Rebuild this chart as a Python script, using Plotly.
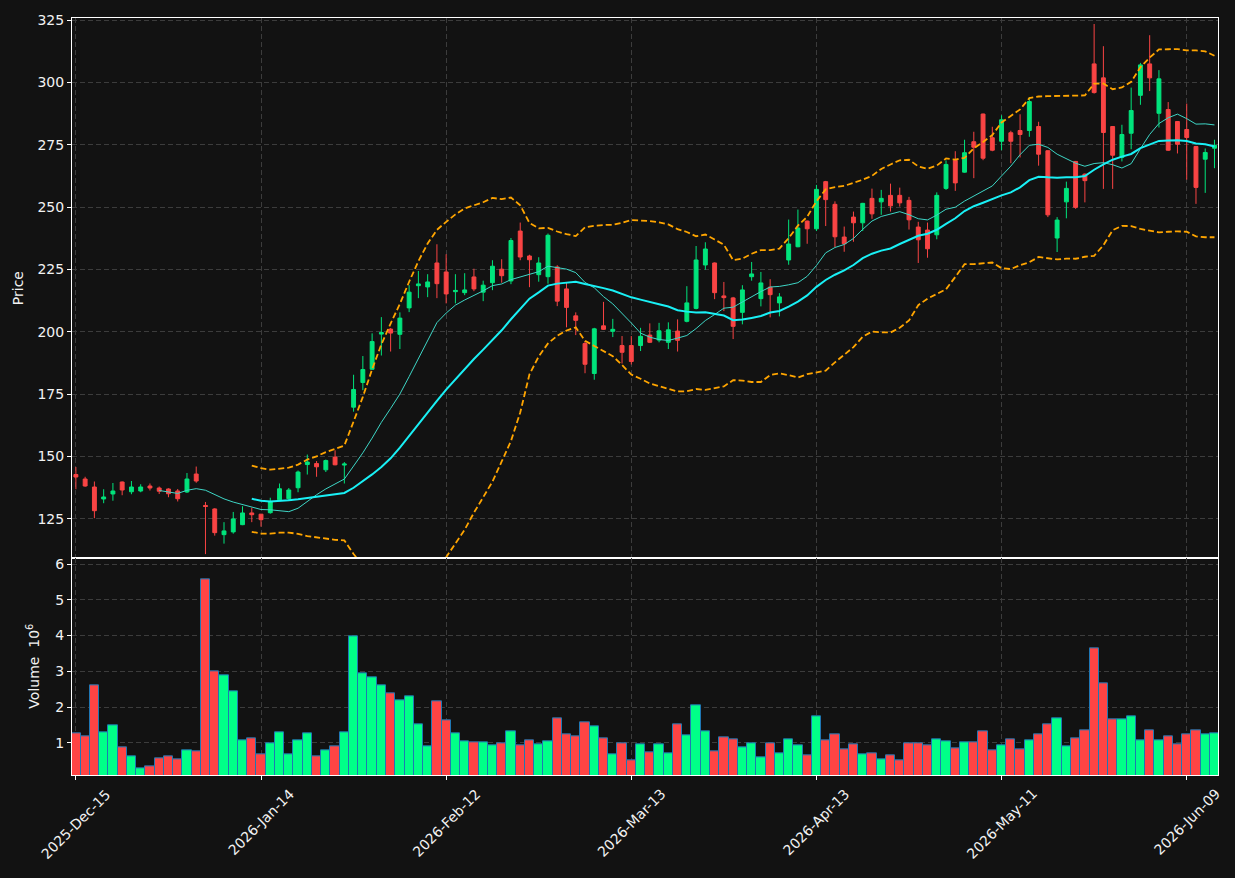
import pandas as pd
import plotly.graph_objects as go
from plotly.subplots import make_subplots

# ---------------- data ----------------
holidays = ["2025-12-25", "2026-01-01", "2026-01-19", "2026-02-16", "2026-04-03", "2026-05-25"]
dates = pd.bdate_range("2025-12-15", "2026-06-12", freq="C", holidays=holidays)

opens = [142.8, 141.0, 137.8, 133.0, 135.0, 139.8, 135.9, 136.2, 138.2, 137.4,
         137.0, 136.2, 135.8, 143.0, 130.4, 129.0, 118.7, 119.8, 122.7, 127.4,
         126.9, 127.5, 132.7, 133.1, 137.5, 146.8, 147.2, 144.7, 149.8, 146.6,
         169.8, 179.7, 185.0, 199.1, 201.1, 199.0, 209.6, 218.5, 218.0, 227.6,
         224.0, 216.1, 215.7, 222.0, 215.9, 219.7, 225.1, 220.4, 240.4, 230.4,
         222.9, 222.1, 226.0, 217.2, 206.4, 195.3, 183.3, 202.4, 200.2, 194.5,
         194.5, 194.5, 198.7, 196.7, 195.8, 200.3, 204.2, 209.4, 226.8, 227.6,
         214.4, 213.6, 207.8, 222.1, 213.3, 217.9, 211.6, 228.8, 234.1, 244.4,
         241.3, 260.2, 251.1, 238.0, 246.0, 243.7, 253.5, 252.1, 254.7, 254.7,
         252.7, 242.0, 240.8, 238.9, 257.5, 268.7, 264.0, 276.2, 287.3, 277.8,
         276.4, 279.8, 280.7, 280.7, 282.3, 272.6, 237.6, 252.1, 268.3, 263.2,
         307.4, 301.8, 282.3, 269.9, 279.6, 294.8, 307.4, 287.6, 289.1, 284.3,
         281.1, 274.3, 269.2, 273.6]
highs = [145.8, 141.9, 140.0, 136.9, 139.4, 140.0, 140.2, 138.9, 139.2, 138.0,
         137.3, 137.0, 143.4, 146.0, 131.8, 129.3, 123.7, 127.8, 130.1, 129.5,
         127.0, 133.5, 139.2, 137.4, 144.4, 150.8, 148.2, 148.8, 152.5, 147.8,
         182.8, 190.3, 199.4, 205.9, 201.5, 207.8, 218.7, 224.4, 223.1, 235.1,
         231.1, 223.1, 223.5, 225.3, 220.5, 228.7, 229.1, 237.6, 243.8, 230.9,
         229.9, 239.4, 226.7, 219.6, 207.8, 196.3, 201.6, 212.0, 205.2, 198.3,
         198.3, 201.6, 203.4, 203.6, 203.8, 205.0, 218.3, 234.4, 235.9, 227.8,
         220.0, 214.0, 218.7, 228.0, 224.0, 221.1, 215.5, 245.0, 249.0, 244.6,
         258.9, 260.5, 252.3, 242.2, 248.2, 251.7, 257.4, 256.9, 259.4, 257.8,
         254.1, 244.1, 243.8, 255.9, 268.7, 272.4, 277.0, 280.2, 287.5, 282.2,
         286.8, 280.6, 287.2, 294.1, 284.2, 272.8, 246.0, 260.2, 268.5, 263.5,
         323.4, 314.5, 282.5, 283.0, 297.9, 307.8, 318.9, 304.9, 292.1, 284.5,
         291.5, 274.5, 273.5, 277.0]
lows = [136.9, 137.9, 125.3, 131.3, 132.3, 134.5, 134.9, 135.7, 136.4, 135.0,
        133.7, 132.0, 135.4, 139.5, 110.9, 118.3, 115.1, 119.1, 122.5, 123.7,
        121.9, 127.1, 132.2, 132.5, 135.7, 142.8, 141.9, 143.8, 146.5, 139.2,
        168.0, 176.6, 184.8, 190.5, 192.1, 193.1, 207.9, 213.5, 213.9, 213.5,
        211.4, 211.4, 214.7, 216.3, 212.3, 216.7, 219.7, 219.1, 228.7, 217.9,
        220.1, 219.3, 210.3, 201.8, 198.7, 183.4, 180.8, 200.8, 197.9, 187.3,
        186.9, 192.3, 195.5, 195.8, 193.1, 192.1, 203.8, 209.0, 224.9, 213.1,
        208.3, 197.1, 203.0, 220.5, 210.2, 205.8, 206.2, 226.9, 233.9, 235.3,
        240.4, 242.4, 233.9, 232.1, 236.1, 240.4, 245.3, 246.9, 248.2, 250.2,
        241.0, 227.6, 229.7, 237.1, 256.9, 256.5, 263.8, 261.6, 268.8, 272.4,
        272.8, 267.6, 269.9, 278.2, 266.6, 246.0, 232.0, 245.5, 249.3, 251.9,
        295.5, 257.3, 257.3, 268.3, 273.2, 291.0, 296.5, 281.9, 272.5, 271.5,
        261.0, 251.3, 255.7, 265.6]
closes = [141.8, 138.2, 128.3, 133.8, 136.2, 136.6, 137.8, 137.8, 137.4, 136.1,
          135.1, 133.1, 141.0, 140.2, 130.0, 119.5, 120.2, 125.0, 127.4, 126.7,
          124.7, 131.9, 137.1, 136.6, 143.8, 147.8, 145.9, 148.4, 146.7, 147.0,
          176.9, 184.9, 196.1, 199.7, 199.5, 205.5, 215.9, 219.2, 220.0, 219.3,
          215.2, 216.6, 216.8, 217.2, 218.7, 226.3, 222.5, 236.6, 230.0, 228.9,
          227.6, 238.7, 212.3, 209.8, 204.6, 187.0, 201.2, 201.0, 201.0, 191.8,
          188.1, 198.2, 195.8, 200.4, 200.8, 196.6, 211.6, 228.8, 233.2, 215.7,
          213.7, 202.2, 216.8, 223.2, 219.6, 214.9, 214.0, 235.2, 241.6, 241.3,
          257.1, 253.0, 238.1, 235.3, 243.7, 251.5, 247.3, 253.5, 250.5, 251.7,
          244.9, 236.9, 233.3, 254.7, 267.1, 259.7, 271.8, 274.0, 269.6, 272.8,
          285.0, 276.4, 279.1, 292.3, 271.2, 246.9, 244.8, 257.5, 249.9, 260.6,
          295.9, 279.9, 270.8, 279.1, 288.7, 307.0, 301.8, 301.4, 272.8, 275.2,
          277.9, 257.9, 271.9, 274.8]
volume_m = [1.26, 1.18, 2.60, 1.29, 1.48, 0.87, 0.62, 0.28, 0.34, 0.57,
            0.62, 0.54, 0.79, 0.76, 5.58, 2.99, 2.88, 2.43, 1.07, 1.12,
            0.68, 0.98, 1.29, 0.68, 1.07, 1.26, 0.62, 0.79, 0.90, 1.29,
            3.99, 2.93, 2.82, 2.60, 2.38, 2.18, 2.29, 1.51, 0.90, 2.15,
            1.62, 1.26, 1.04, 1.01, 1.01, 0.93, 0.98, 1.32, 0.93, 1.07,
            0.96, 1.04, 1.68, 1.23, 1.18, 1.57, 1.46, 1.12, 0.68, 0.99,
            0.51, 0.96, 0.73, 0.96, 0.70, 1.51, 1.21, 2.04, 1.32, 0.76,
            1.15, 1.10, 0.87, 0.99, 0.59, 0.99, 0.70, 1.10, 0.93, 0.65,
            1.74, 1.07, 1.23, 0.82, 0.96, 0.68, 0.70, 0.54, 0.65, 0.51,
            0.99, 0.99, 0.93, 1.10, 1.04, 0.84, 1.01, 1.01, 1.32, 0.79,
            0.93, 1.10, 0.82, 1.07, 1.23, 1.51, 1.68, 0.90, 1.12, 1.35,
            3.63, 2.65, 1.65, 1.65, 1.74, 1.07, 1.35, 1.07, 1.18, 0.96,
            1.23, 1.35, 1.23, 1.26]
tick_labels = ["2025-Dec-15", "2026-Jan-14", "2026-Feb-12", "2026-Mar-13",
               "2026-Apr-13", "2026-May-11", "2026-Jun-09"]
price_ticks = [125, 150, 175, 200, 225, 250, 275, 300, 325]
volume_ticks = [1, 2, 3, 4, 5, 6]

# ---------------- derived series ----------------
df = pd.DataFrame({"open": opens, "high": highs, "low": lows, "close": closes,
                   "volume": volume_m}, index=dates)
idx = list(range(len(df)))
label_of = {d.strftime("%Y-%b-%d"): i for i, d in enumerate(df.index)}
tick_idx = [label_of[t] for t in tick_labels]

ma10 = df["close"].rolling(10).mean()
ma20 = df["close"].rolling(20).mean()
sd20 = df["close"].rolling(20).std()
bb_up = ma20 + 2 * sd20
bb_lo = ma20 - 2 * sd20

UP_C, DN_C = "#00e47c", "#f94444"
VUP_C, VDN_C = "#00ff88", "#ff4444"
BG = "#121212"
GRID = "#3c3c3c"
FG = "#f2f2f2"
FONT = "DejaVu Sans"

vol_colors = [VUP_C if c >= o else VDN_C for o, c in zip(opens, closes)]

fig = make_subplots(rows=2, cols=1, shared_xaxes=True, vertical_spacing=0)

fig.add_trace(go.Candlestick(
    x=idx, open=df["open"], high=df["high"], low=df["low"], close=df["close"],
    increasing=dict(line=dict(color=UP_C, width=1), fillcolor=UP_C),
    decreasing=dict(line=dict(color=DN_C, width=1), fillcolor=DN_C),
    whiskerwidth=0, showlegend=False, hoverinfo="skip"), row=1, col=1)

fig.add_trace(go.Scatter(x=idx, y=bb_up, mode="lines", showlegend=False,
                         line=dict(color="#ffa500", width=1.8, dash="6px,3px")), row=1, col=1)
fig.add_trace(go.Scatter(x=idx, y=bb_lo, mode="lines", showlegend=False,
                         line=dict(color="#ffa500", width=1.8, dash="6px,3px")), row=1, col=1)
fig.add_trace(go.Scatter(x=idx, y=ma10, mode="lines", showlegend=False,
                         line=dict(color="#3ed6c6", width=1)), row=1, col=1)
fig.add_trace(go.Scatter(x=idx, y=ma20, mode="lines", showlegend=False,
                         line=dict(color="#19f0f5", width=2)), row=1, col=1)

fig.add_trace(go.Bar(x=idx, y=df["volume"], marker=dict(color=vol_colors,
                     line=dict(color="#1f77b4", width=1)),
                     showlegend=False, hoverinfo="skip"), row=2, col=1)

xr = [-0.42, 123.38]
axis_common = dict(showline=True, linecolor="white", linewidth=1, mirror=True,
                   showgrid=True, gridcolor=GRID, griddash="5px,3px", gridwidth=1,
                   zeroline=False)
fig.update_xaxes(range=xr, tickvals=tick_idx, showticklabels=False, **axis_common)
fig.update_xaxes(rangeslider_visible=False, ticks="", row=1, col=1)
fig.update_xaxes(ticks="outside", ticklen=4, tickcolor="white", row=2, col=1)

fig.update_yaxes(row=1, col=1, domain=[0.2862, 1.0], range=[109.2, 325.8],
                 tickvals=price_ticks, ticks="outside", ticklen=4, tickcolor="white",
                 tickfont=dict(color=FG, size=14, family=FONT), **axis_common)
fig.update_yaxes(row=2, col=1, domain=[0.0, 0.2862], range=[0.1, 6.16],
                 tickvals=volume_ticks, ticks="outside", ticklen=4, tickcolor="white",
                 tickfont=dict(color=FG, size=14, family=FONT), **axis_common)

annotations = []
for t, i in zip(tick_labels, tick_idx):
    annotations.append(dict(x=i, xref="x2", y=0, yref="paper", text=t, showarrow=False,
                            textangle=-45, xanchor="center", yanchor="top", yshift=-8,
                            font=dict(color=FG, size=14, family=FONT)))
annotations.append(dict(x=0, xref="paper", y=(1 + 0.2862) / 2, yref="paper", text="Price",
                        showarrow=False, textangle=-90, xanchor="center", yanchor="middle",
                        xshift=-54, font=dict(color=FG, size=14, family=FONT)))
annotations.append(dict(x=0, xref="paper", y=0.2862 / 2, yref="paper",
                        text="Volume  10<sup>6</sup>",
                        showarrow=False, textangle=-90, xanchor="center", yanchor="middle",
                        xshift=-39, font=dict(color=FG, size=14, family=FONT)))

fig.update_layout(width=1235, height=878, paper_bgcolor=BG, plot_bgcolor=BG,
                  margin=dict(l=72, r=17, t=15, b=103), bargap=0.0, boxgap=0.4,
                  annotations=annotations, showlegend=False,
                  font=dict(family=FONT, color=FG, size=14))

fig.write_html("out.html")
